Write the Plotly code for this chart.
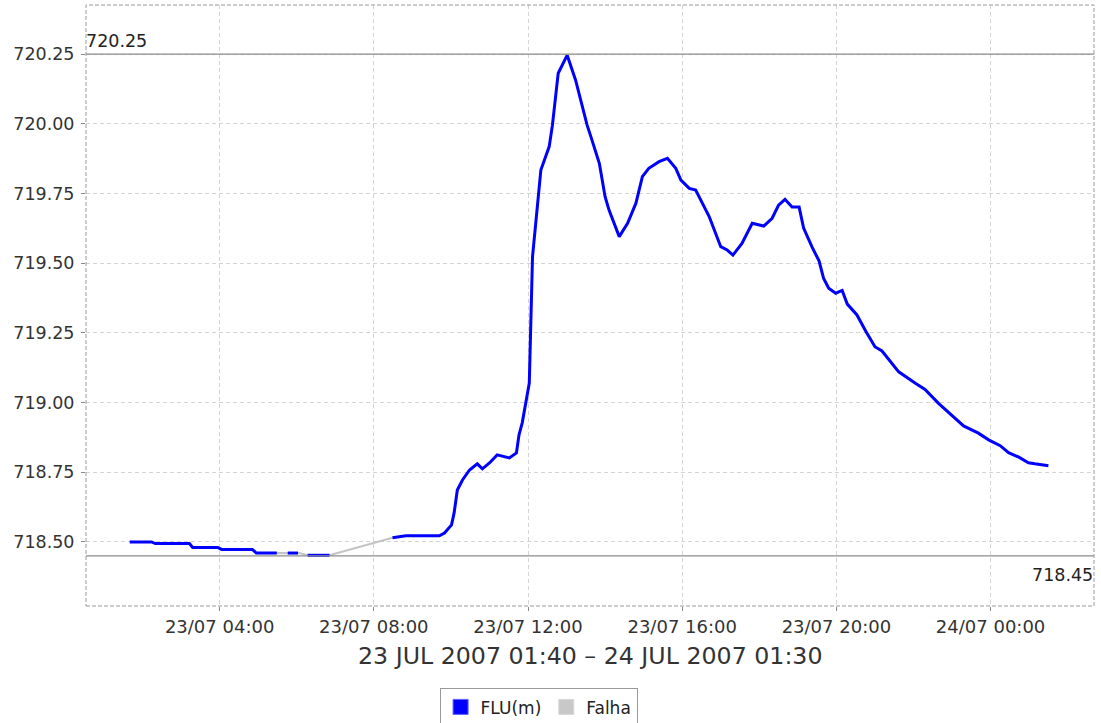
import plotly.graph_objects as go

# ---- data ----
flu_times = [
    "2007-07-23 01:40", "2007-07-23 02:14", "2007-07-23 02:20", "2007-07-23 03:13",
    "2007-07-23 03:18", "2007-07-23 03:57", "2007-07-23 04:03", "2007-07-23 04:51",
    "2007-07-23 04:57", "2007-07-23 05:29", None,
    "2007-07-23 05:46", "2007-07-23 06:02", None,
    "2007-07-23 06:17", "2007-07-23 06:51", None,
    "2007-07-23 08:29", "2007-07-23 08:40", "2007-07-23 08:50", "2007-07-23 09:42",
    "2007-07-23 09:50", "2007-07-23 10:01", "2007-07-23 10:05", "2007-07-23 10:10",
    "2007-07-23 10:18", "2007-07-23 10:29", "2007-07-23 10:41", "2007-07-23 10:49",
    "2007-07-23 11:00", "2007-07-23 11:12", "2007-07-23 11:31", "2007-07-23 11:42",
    "2007-07-23 11:46", "2007-07-23 11:51", "2007-07-23 12:02", "2007-07-23 12:07",
    "2007-07-23 12:20", "2007-07-23 12:33", "2007-07-23 12:38", "2007-07-23 12:47",
    "2007-07-23 13:01", "2007-07-23 13:14", "2007-07-23 13:22", "2007-07-23 13:32",
    "2007-07-23 13:38", "2007-07-23 13:51", "2007-07-23 14:00", "2007-07-23 14:06",
    "2007-07-23 14:22", "2007-07-23 14:35", "2007-07-23 14:48", "2007-07-23 14:58",
    "2007-07-23 15:08", "2007-07-23 15:24", "2007-07-23 15:37", "2007-07-23 15:50",
    "2007-07-23 15:58", "2007-07-23 16:11", "2007-07-23 16:21", "2007-07-23 16:42",
    "2007-07-23 17:00", "2007-07-23 17:10", "2007-07-23 17:19", "2007-07-23 17:33",
    "2007-07-23 17:49", "2007-07-23 18:07", "2007-07-23 18:20", "2007-07-23 18:30",
    "2007-07-23 18:40", "2007-07-23 18:51", "2007-07-23 19:02", "2007-07-23 19:09",
    "2007-07-23 19:22", "2007-07-23 19:33", "2007-07-23 19:40", "2007-07-23 19:48",
    "2007-07-23 19:59", "2007-07-23 20:09", "2007-07-23 20:17", "2007-07-23 20:32",
    "2007-07-23 20:46", "2007-07-23 21:00", "2007-07-23 21:11", "2007-07-23 21:37",
    "2007-07-23 22:03", "2007-07-23 22:18", "2007-07-23 22:39", "2007-07-23 23:00",
    "2007-07-23 23:18", "2007-07-23 23:41", "2007-07-23 23:57", "2007-07-24 00:15",
    "2007-07-24 00:28", "2007-07-24 00:44", "2007-07-24 00:59", "2007-07-24 01:09",
    "2007-07-24 01:30",
]
flu_values = [
    718.500, 718.500, 718.494, 718.494,
    718.480, 718.480, 718.473, 718.473,
    718.460, 718.460, None,
    718.460, 718.460, None,
    718.452, 718.452, None,
    718.515, 718.520, 718.522, 718.522,
    718.532, 718.561, 718.604, 718.686,
    718.722, 718.758, 718.780, 718.762,
    718.783, 718.812, 718.801, 718.819,
    718.884, 718.927, 719.070, 719.522,
    719.834, 719.918, 719.995, 720.181,
    720.246, 720.157, 720.085, 719.995,
    719.953, 719.858, 719.738, 719.691,
    719.595, 719.643, 719.715, 719.810,
    719.840, 719.864, 719.876, 719.840,
    719.798, 719.768, 719.762, 719.667,
    719.559, 719.547, 719.529, 719.571,
    719.643, 719.633, 719.661, 719.708,
    719.729, 719.701, 719.701, 719.626,
    719.558, 719.508, 719.446, 719.410,
    719.392, 719.402, 719.353, 719.314,
    719.255, 719.200, 719.185, 719.110,
    719.069, 719.047, 718.997, 718.955,
    718.916, 718.890, 718.866, 718.845,
    718.820, 718.804, 718.784, 718.780,
    718.773,
]

falha_times = [
    "2007-07-23 04:57", "2007-07-23 06:04", "2007-07-23 06:17",
    "2007-07-23 06:51", "2007-07-23 08:29",
]
falha_values = [718.460, 718.460, 718.452, 718.452, 718.515]

upper_mark = 720.25
lower_mark = 718.45
y_ticks = [718.50, 718.75, 719.00, 719.25, 719.50, 719.75, 720.00, 720.25]
x_range = ["2007-07-23 00:32", "2007-07-24 02:41"]
y_range = [718.27, 720.426]
axis_label = "23 JUL 2007 01:40 – 24 JUL 2007 01:30"
series_names = ["FLU(m)", "Falha"]

FONT = "DejaVu Sans"
fig = go.Figure()

fig.add_trace(go.Scatter(x=falha_times, y=falha_values, mode="lines",
                         line=dict(color="#c4c4c4", width=2.2),
                         showlegend=False, hoverinfo="skip"))
fig.add_trace(go.Scatter(x=flu_times, y=flu_values, mode="lines",
                         line=dict(color="#0000ff", width=3),
                         connectgaps=False, showlegend=False))
# legend entries (square swatches)
fig.add_trace(go.Scatter(x=[None], y=[None], mode="markers", name=series_names[0],
                         marker=dict(symbol="square", size=15, color="#0000ff",
                                     line=dict(color="#6060ff", width=1))))
fig.add_trace(go.Scatter(x=[None], y=[None], mode="markers", name=series_names[1],
                         marker=dict(symbol="square", size=15, color="#c8c8c8",
                                     line=dict(color="#d8d8d8", width=1))))

# marker lines
fig.add_shape(type="line", xref="paper", x0=0, x1=1, yref="y", y0=upper_mark, y1=upper_mark,
              line=dict(color="#8c8c8c", width=1.2))
fig.add_shape(type="line", xref="paper", x0=0, x1=1, yref="y", y0=lower_mark, y1=lower_mark,
              line=dict(color="#8c8c8c", width=1.2))
# plot outline
fig.add_shape(type="rect", xref="paper", yref="paper", x0=0, x1=1, y0=0, y1=1,
              line=dict(color="#9a9a9a", width=1, dash="4px,2px"), layer="above")

fig.add_annotation(xref="paper", x=0.0, yref="y", y=upper_mark, text=f"{upper_mark:.2f}",
                   showarrow=False, xanchor="left", yanchor="bottom", yshift=1, xshift=-2,
                   font=dict(family=FONT, size=17.5, color="#222"))
fig.add_annotation(xref="paper", x=1.0, yref="y", y=lower_mark, text=f"{lower_mark:.2f}",
                   showarrow=False, xanchor="right", yanchor="top", yshift=-7, xshift=1,
                   font=dict(family=FONT, size=17.5, color="#222"))
fig.add_annotation(xref="paper", x=0.5, yref="paper", y=-0.083, text=axis_label,
                   showarrow=False, xanchor="center", yanchor="middle",
                   font=dict(family=FONT, size=23.7, color="#333"))

fig.update_layout(
    width=1101, height=723,
    margin=dict(l=86, r=7, t=5, b=117, autoexpand=False),
    paper_bgcolor="white", plot_bgcolor="white",
    font=dict(family=FONT, color="#333"),
    legend=dict(orientation="h", x=0.449, xanchor="center", y=-0.137, yanchor="top",
                bordercolor="#9a9a9a", borderwidth=1, font=dict(family=FONT, size=17, color="#222"),
                itemwidth=30, tracegroupgap=0, bgcolor="white"),
    xaxis=dict(type="date", range=x_range, dtick=4 * 3600 * 1000,
               tick0="2007-07-23 00:00", tickformat="%d/%m %H:%M",
               showgrid=True, gridcolor="#d4d4d4", griddash="4px,3px", gridwidth=1,
               ticks="outside", ticklen=4, tickcolor="#888", automargin=False,
               tickfont=dict(family=FONT, size=18, color="#333"),
               showline=False, zeroline=False),
    yaxis=dict(range=y_range, tickvals=y_ticks, tickformat=".2f",
               showgrid=True, gridcolor="#d4d4d4", griddash="4px,3px", gridwidth=1,
               ticks="outside", ticklen=4, tickcolor="#888", ticklabelstandoff=3,
               automargin=False,
               tickfont=dict(family=FONT, size=17.5, color="#333"),
               showline=False, zeroline=False),
)

fig.write_html(
    "out.html",
    config={"displayModeBar": False},
    post_script="document.body.style.margin='0';document.documentElement.style.overflow='hidden';",
)
